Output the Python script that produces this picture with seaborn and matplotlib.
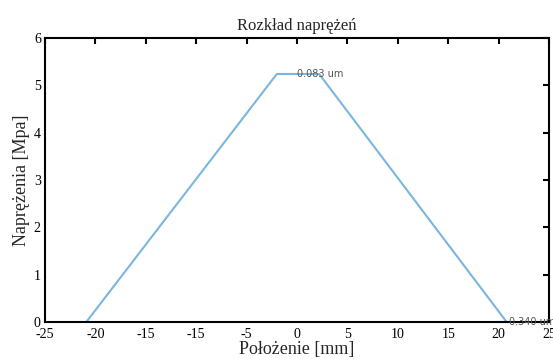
import matplotlib
matplotlib.use("Agg")
import matplotlib.pyplot as plt
import seaborn as sns
import pandas as pd

# Stress profile
positions = [-20.9, -2.0, 2.2, 20.8]
stresses = [0.0, 5.24, 5.24, 0.0]

x_ticks = [-25, -20, -15, -10, -5, 0, 5, 10, 15, 20, 25]
x_tick_labels = ["-25", "-20", "-15", "-15", "-5", "0", "5", "10", "15", "20", "25"]
y_ticks = [0, 1, 2, 3, 4, 5, 6]

labels = ["0.083 um", "0.340 um"]
label_points = [(0.0, 5.24), (21.0, 0.0)]

sns.set_style("white")
plt.rcParams["font.family"] = ["Liberation Serif", "DejaVu Serif"]

df = pd.DataFrame({"x": positions, "y": stresses})

fig = plt.figure(figsize=(5.53, 3.59), dpi=100)
ax = fig.add_axes([45 / 553, 1 - 322 / 359, 504 / 553, 284 / 359])

sns.lineplot(data=df, x="x", y="y", ax=ax, color="#7ab6e0", linewidth=1.5,
             sort=False, estimator=None)

for txt, (px, py) in zip(labels, label_points):
    ax.text(px, py, txt, fontsize=7, color="#555555", family="DejaVu Sans",
            va="center", ha="left", clip_on=False)

ax.set_xlim(-25, 25)
ax.set_ylim(0, 6)
ax.set_xticks(x_ticks)
ax.set_xticklabels(x_tick_labels)
ax.set_yticks(y_ticks)
ax.tick_params(direction="in", length=4, width=1.5, top=True, right=True,
               labelsize=10, colors="black")
ax.tick_params(axis="x", pad=4)
ax.tick_params(axis="y", pad=3)
for s in ax.spines.values():
    s.set_visible(True)
    s.set_color("black")
    s.set_linewidth(1.5)

ax.set_title("Rozkład naprężeń", fontsize=12, pad=6)
ax.set_xlabel("Położenie [mm]", fontsize=13, labelpad=0)
ax.set_ylabel("Naprężenia [Mpa]", fontsize=13, labelpad=3)

fig.savefig("out.png", dpi=100)
